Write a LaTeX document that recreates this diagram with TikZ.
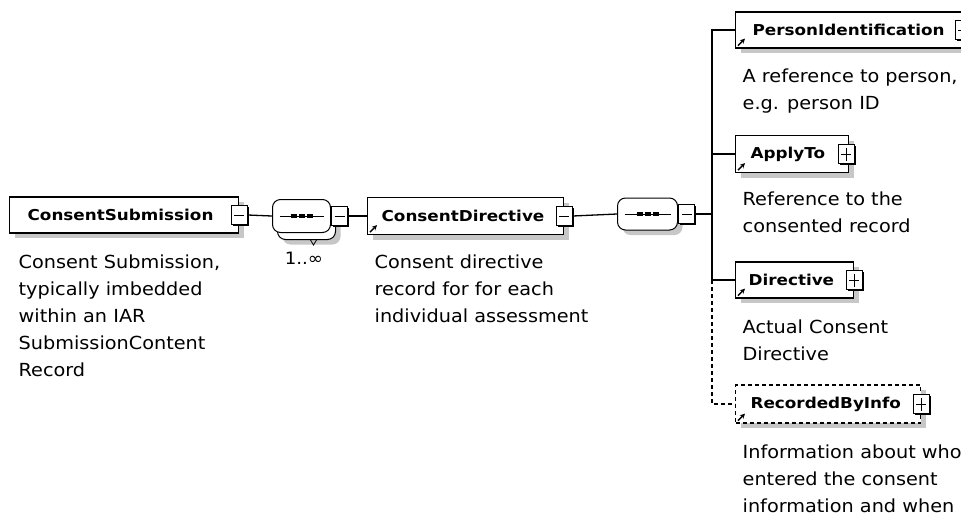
\documentclass[tikz,border=0pt]{standalone}
\usepackage{fontspec}
\newfontfamily\descfont[FakeStretch=1.07]{DejaVu Sans}
\newfontfamily\labfont[FakeStretch=1.12]{DejaVu Sans}
\usetikzlibrary{shadows,arrows.meta}
\definecolor{shadegray}{gray}{0.78}
\begin{document}
\begin{tikzpicture}[x=1pt,y=-1pt,line width=1.3pt,
  elem/.style={draw,fill=white,rectangle,anchor=west,align=left,inner ysep=0pt,minimum height=36pt,
    font=\labfont\bfseries\fontsize{15}{18}\selectfont,
    drop shadow={shadow xshift=5pt,shadow yshift=-5pt,fill=shadegray,opacity=1}},
  xbox/.style={draw,fill=white,rectangle,minimum width=16pt,minimum height=19pt,inner sep=0pt,line width=1pt,
    drop shadow={shadow xshift=1.5pt,shadow yshift=-1.5pt,fill=black,opacity=1}},
  minusbox/.style={xbox,path picture={\draw[line width=1pt] ([xshift=3pt]path picture bounding box.west) -- ([xshift=-3pt]path picture bounding box.east);}},
  plusbox/.style={xbox,path picture={\draw[line width=1pt] ([xshift=3pt]path picture bounding box.west) -- ([xshift=-3pt]path picture bounding box.east);
    \draw[line width=1pt] ([yshift=-3pt]path picture bounding box.north) -- ([yshift=3pt]path picture bounding box.south);}},
  seqbox/.style={rectangle,rounded corners=8pt,draw,fill=white,anchor=west,
    minimum width=58pt,minimum height=33pt,inner sep=0pt,line width=1pt,
    path picture={\draw[line width=0.8pt] ([xshift=7pt]path picture bounding box.west) -- ([xshift=-7pt]path picture bounding box.east);
      \foreach \d in {-8,0,8} \draw[line width=4pt] ([xshift=\d pt-3pt]path picture bounding box.center) -- ([xshift=\d pt+3pt]path picture bounding box.center);}},
  seqshadow/.style={drop shadow={shadow xshift=5pt,shadow yshift=-5pt,fill=shadegray,opacity=1}},
  desc/.style={anchor=north west,align=left,inner sep=0pt,font=\descfont\fontsize{18}{27}\selectfont}]
\useasboundingbox (0,0) rectangle (961,515);
% root element
\node[elem,text width=193pt,inner xsep=18pt] (subm) at (9,215) {ConsentSubmission};
\node[minusbox] (subm-x) at (subm.east) {};
\node[desc] (subm-d) at (18,254) {Consent Submission,\\typically imbedded\\within an IAR\\SubmissionContent\\Record};
% repeated sequence
\node[seqbox,seqshadow] (seq1-back) at (277,223) {};
\node[seqbox] (seq1) at (272,216) {};
\node[minusbox,anchor=west] (seq1-x) at (seq1.east) {};
\draw[line width=0.8pt] ([xshift=4pt]seq1-back.south) -- ++(3,5) -- ++(3,-5);
\node[font=\descfont\fontsize{17}{20}\selectfont,inner sep=0pt] (seq1-card) at (304,258) {1..∞};
% directive record
\node[elem,text width=168pt,inner xsep=14pt,minimum height=37pt] (dirrec) at (367,216) {ConsentDirective};
\node[minusbox] (dirrec-x) at (dirrec.east) {};
\node[desc] (dirrec-d) at (374,254) {Consent directive\\record for for each\\individual assessment};
\node[seqbox,seqshadow,minimum width=60pt,minimum height=32pt] (seq2) at (617,214) {};
\node[minusbox,anchor=west] (seq2-x) at (seq2.east) {};
% children
\node[elem,text width=193pt,inner xsep=17pt] (pid) at (735,30) {PersonIdentification};
\node[plusbox] (pid-x) at (pid.east) {};
\node[desc] (pid-d) at (742,68) {A reference to person,\\e.g. person ID};
\node[elem,text width=83pt,inner xsep=15pt,minimum height=37pt] (apply) at (735,154) {ApplyTo};
\node[plusbox] (apply-x) at ([xshift=-3pt]apply.east) {};
\node[desc] (apply-d) at (742,191) {Reference to the\\consented record};
\node[elem,text width=92pt,inner xsep=13pt] (directive) at (735,280) {Directive};
\node[plusbox] (directive-x) at (directive.east) {};
\node[desc] (directive-d) at (742,319) {Actual Consent\\Directive};
\node[elem,text width=155pt,inner xsep=15pt,minimum height=38pt,dash pattern=on 4pt off 3pt] (recby) at (735,404) {RecordedByInfo};
\node[plusbox] (recby-x) at (recby.east) {};
\node[desc] (recby-d) at (742,444) {Information about who\\entered the consent\\information and when};
% connectors
\draw (subm-x.east) -- (seq1.west);
\draw (seq1-x.east) -- (dirrec.west);
\draw (dirrec-x.east) -- (seq2.west);
\draw (seq2-x.east) -- ++(17,0) coordinate (bus);
\draw (bus) |- (pid.west);
\draw (bus) |- (apply.west);
\draw (bus) |- (directive.west);
\draw[dash pattern=on 4pt off 3pt] (bus |- directive.west) |- (recby.west);
\foreach \n in {dirrec,pid,apply,directive,recby}
  \draw[line width=1.5pt,-{Stealth[length=5pt,width=5pt]}] ([shift={(3pt,3pt)}]\n.south west) -- ++(7,-7);
\end{tikzpicture}
\end{document}
